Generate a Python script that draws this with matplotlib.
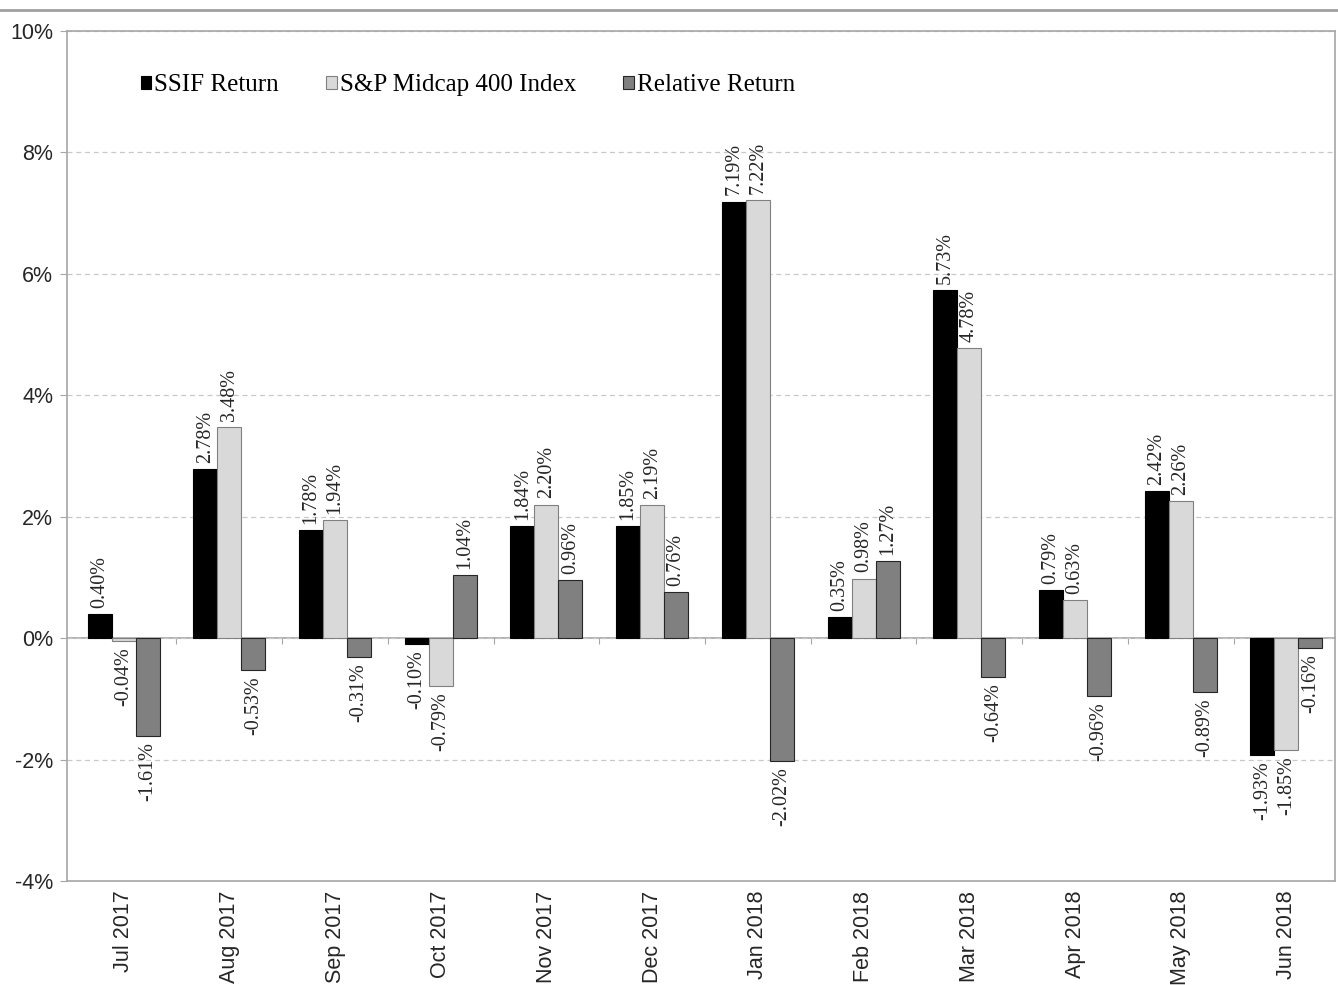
import matplotlib
matplotlib.use('Agg')
import matplotlib.pyplot as plt
import numpy as np
from matplotlib.lines import Line2D

months = ['Jul 2017', 'Aug 2017', 'Sep 2017', 'Oct 2017', 'Nov 2017', 'Dec 2017',
          'Jan 2018', 'Feb 2018', 'Mar 2018', 'Apr 2018', 'May 2018', 'Jun 2018']
ssif_return = [0.40, 2.78, 1.78, -0.10, 1.84, 1.85, 7.19, 0.35, 5.73, 0.79, 2.42, -1.93]
midcap_return = [-0.04, 3.48, 1.94, -0.79, 2.20, 2.19, 7.22, 0.98, 4.78, 0.63, 2.26, -1.85]
relative_return = [-1.61, -0.53, -0.31, 1.04, 0.96, 0.76, -2.02, 1.27, -0.64, -0.96, -0.89, -0.16]

series_names = ['SSIF Return', 'S&P Midcap 400 Index', 'Relative Return']
y_ticks = [-4, -2, 0, 2, 4, 6, 8, 10]

GRAY = '#a6a6a6'
TEXT = '#262626'

fig = plt.figure(figsize=(13.38, 9.85), dpi=100)
ax = fig.add_axes([0.0501, 0.1056, 0.9477, 0.8629])

x = np.arange(len(months))
width = 0.227
styles = [('black', 'black'), ('#d9d9d9', '#808080'), ('#808080', '#262626')]

for i, (vals, name) in enumerate(zip([ssif_return, midcap_return, relative_return], series_names)):
    fc, ec = styles[i]
    bars = ax.bar(x + (i - 1) * width, vals, width, color=fc, edgecolor=ec,
                  linewidth=0.8, label=name, zorder=3)
    for b, v in zip(bars, vals):
        ax.annotate(f'{v:.2f}%', (b.get_x() + b.get_width() / 2, v),
                    xytext=(0, 4.5 if v >= 0 else -4.5), textcoords='offset points',
                    rotation=90, ha='center', va='bottom' if v >= 0 else 'top',
                    fontsize=14.5, family='Liberation Serif', color=TEXT)

ax.set_xlim(-0.535, 11.46)
ax.set_ylim(-4, 10)
ax.set_yticks(y_ticks, [f'{t}%' for t in y_ticks])
ax.set_xticks(x, months, rotation=90)

for lbl in ax.get_yticklabels() + ax.get_xticklabels():
    lbl.set_family('Liberation Sans')
    lbl.set_fontsize(15.5)
    lbl.set_color(TEXT)

ax.tick_params(axis='x', length=0, pad=7)
ax.tick_params(axis='y', length=5, pad=5, color=GRAY)

ax.grid(axis='y', color='#c8c8c8', linestyle=(0, (4, 3)), linewidth=0.9, zorder=1)
for s in ax.spines.values():
    s.set_color(GRAY)
    s.set_linewidth(1.2)

# zero line with small marks between categories
zero = ax.secondary_xaxis(4 / 14)
zero.set_xticks(np.arange(len(months) - 1) + 0.5)
zero.tick_params(length=4, color=GRAY, labelbottom=False, labeltop=False)
for s in zero.spines.values():
    s.set_color(GRAY)
    s.set_linewidth(1.2)

ax.legend(loc='center left', bbox_to_anchor=(0.058, 0.936), ncol=3, frameon=False,
          prop={'family': 'Liberation Serif', 'size': 18},
          handlelength=0.42, handleheight=0.42, handletextpad=0.12,
          columnspacing=1.9, borderpad=0, borderaxespad=0)

fig.add_artist(Line2D([0, 1], [1 - 9.5 / 985] * 2, transform=fig.transFigure,
                      color='#a0a0a0', linewidth=2))

fig.savefig('out.png', dpi=100, facecolor='white')
